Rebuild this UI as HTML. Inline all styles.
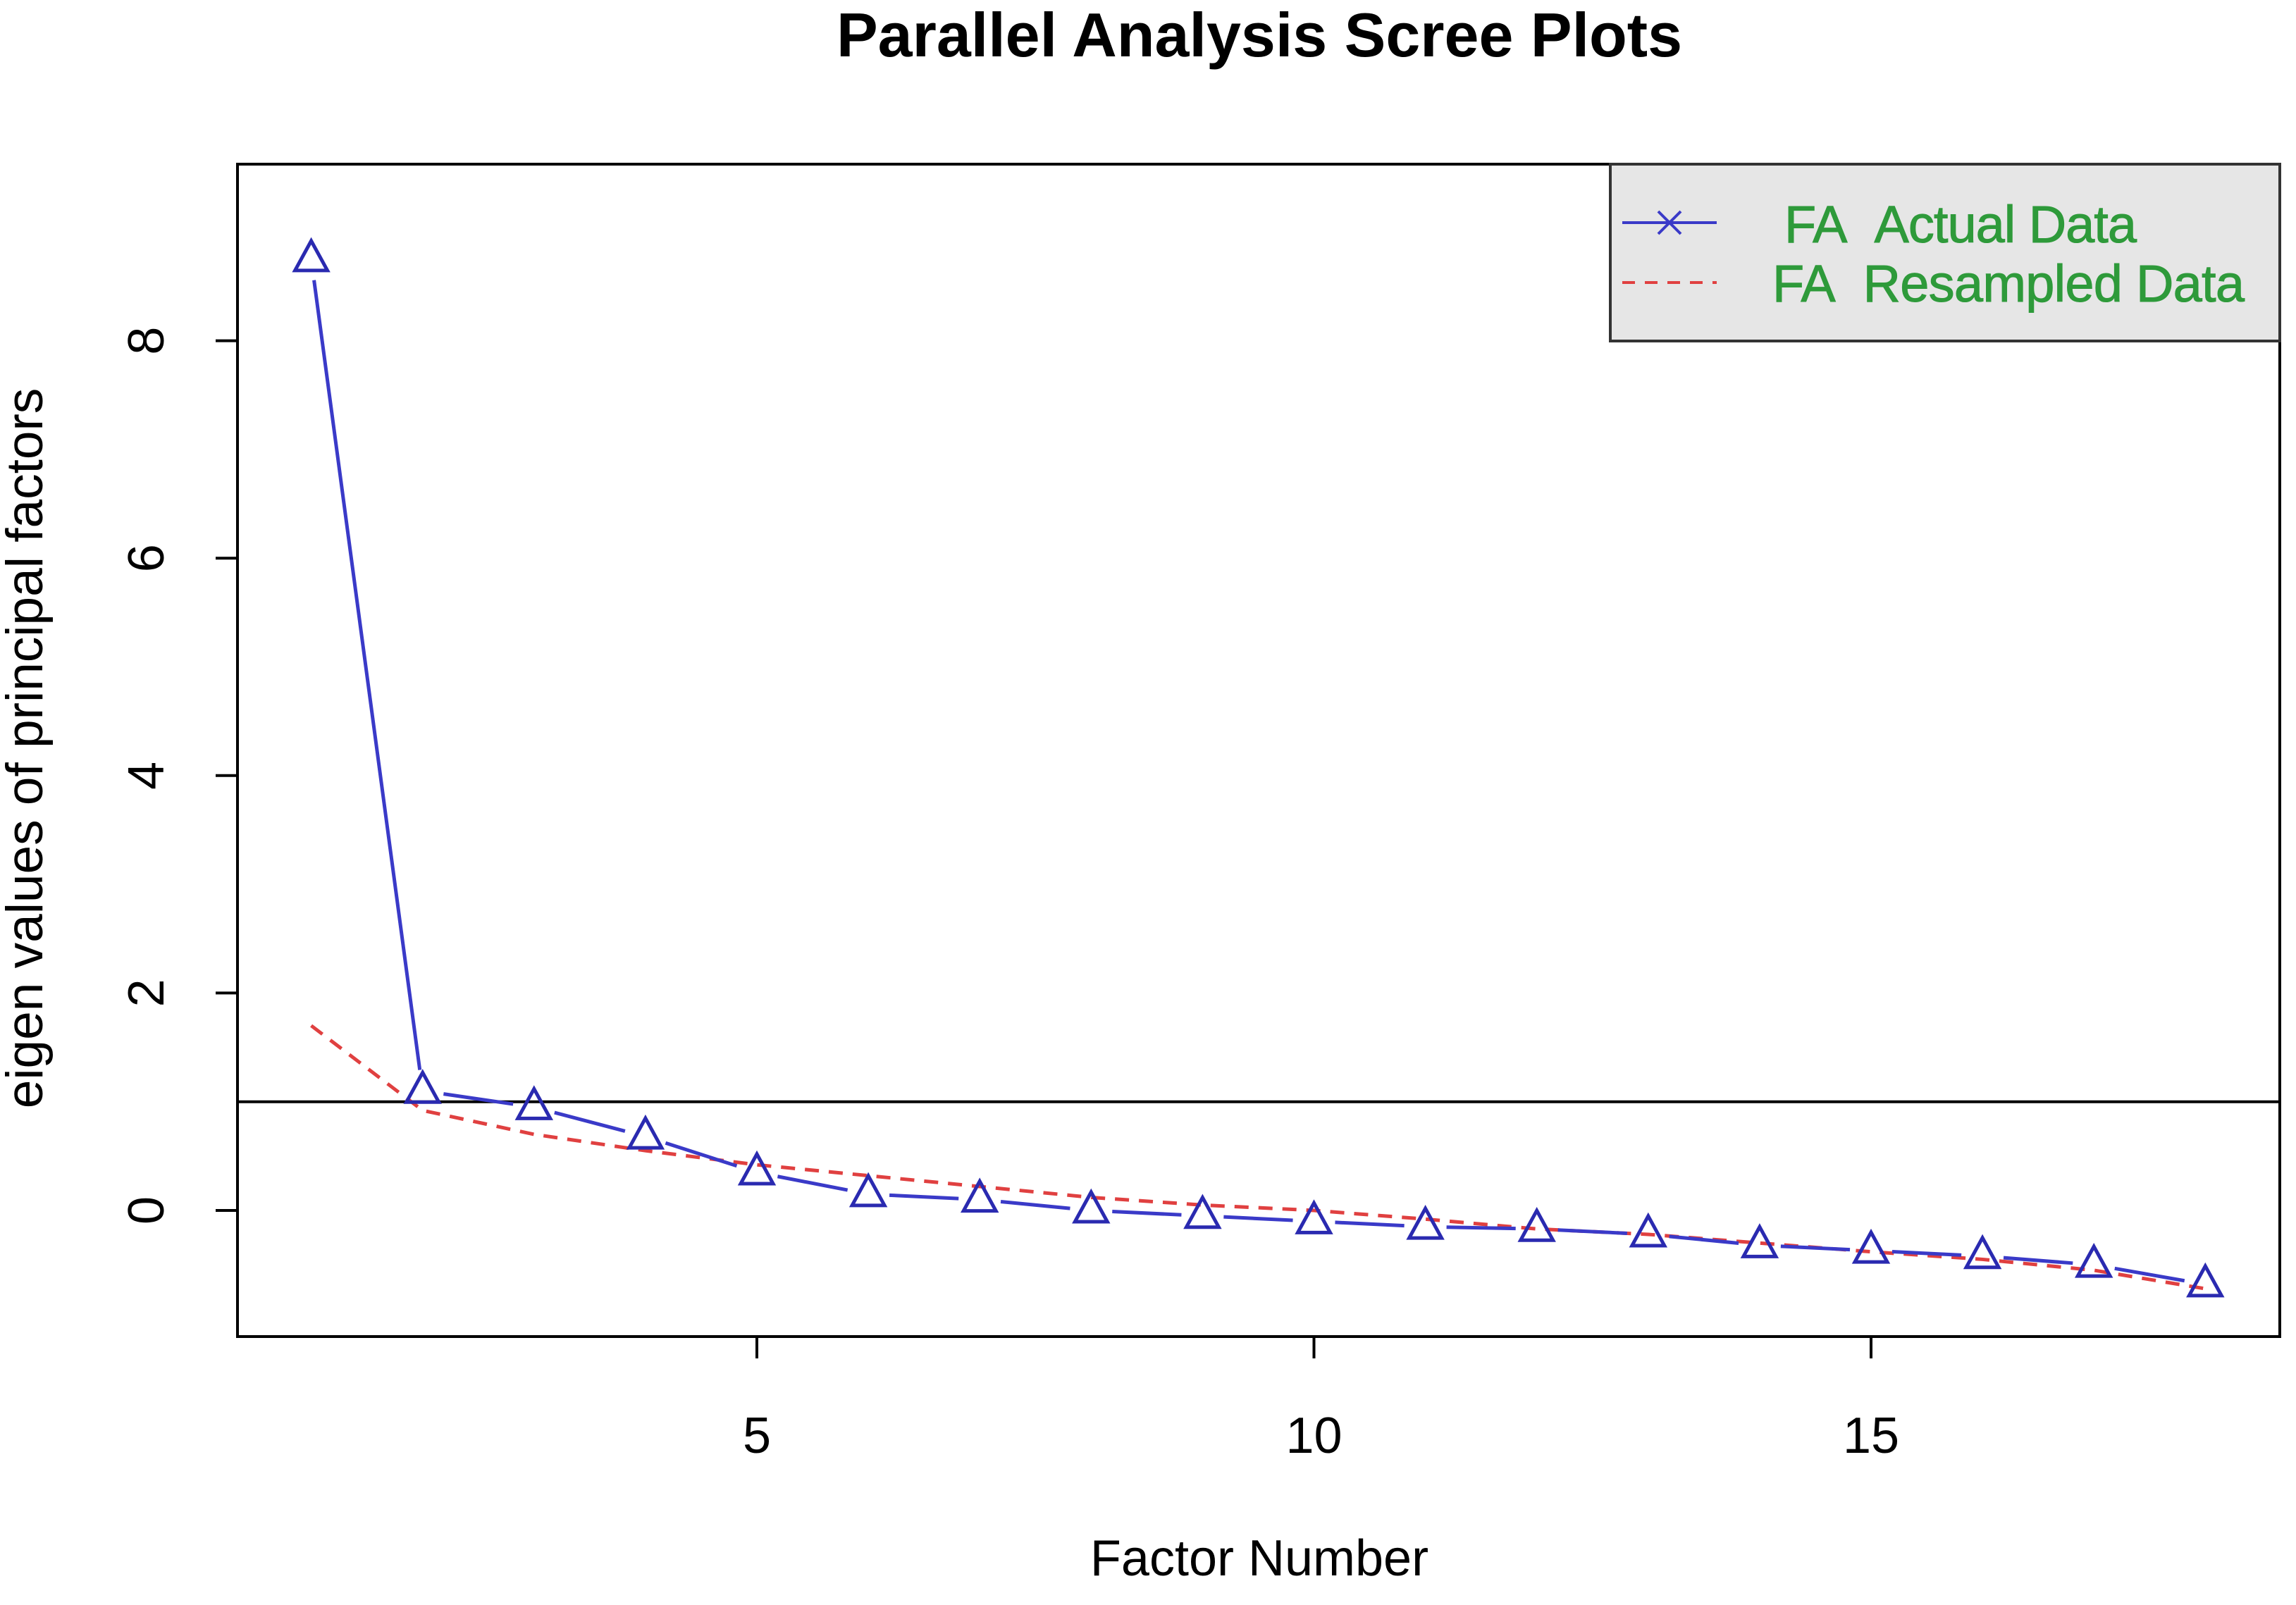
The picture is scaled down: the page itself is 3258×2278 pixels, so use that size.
<!DOCTYPE html>
<html><head><meta charset="utf-8"><style>html,body{margin:0;padding:0;background:#fff}svg{display:block}</style></head>
<body>
<svg id="chart" width="3258" height="2278" viewBox="0 0 3258 2278" xmlns="http://www.w3.org/2000/svg" font-family="Liberation Sans, Arial, sans-serif">
<rect width="3258" height="2278" fill="#fff"/>
<text x="1787" y="80" font-size="88" font-weight="bold" text-anchor="middle">Parallel Analysis Scree Plots</text>
<g id="marks"></g>
<rect x="337" y="233" width="2898" height="1664" fill="none" stroke="#000" stroke-width="4"/>
<g>
<rect x="2285" y="233" width="950" height="251" fill="#e6e6e6" stroke="#333" stroke-width="4"/>
<g>
<line x1="2302" y1="316" x2="2436" y2="316" stroke="#3a3ac8" stroke-width="4"/>
<path d="M2353 300 L2385 332 M2353 332 L2385 300" stroke="#3a3ac8" stroke-width="4"/>
<text x="2532" y="344" font-size="74" fill="#2e9a3a" stroke="#2e9a3a" stroke-width="1" textLength="500">FA&#160;&#160;Actual Data</text>
</g>
<g>
<line x1="2302" y1="401" x2="2436" y2="401" stroke="#e04040" stroke-width="4" stroke-dasharray="18,14"/>
<text x="2515" y="428" font-size="74" fill="#2e9a3a" stroke="#2e9a3a" stroke-width="1" textLength="670">FA&#160;&#160;Resampled Data</text>
</g>
</g>
<text x="1787" y="2236" font-size="72" text-anchor="middle">Factor Number</text>
<text transform="translate(60,1062) rotate(-90)" font-size="73" text-anchor="middle">eigen values of principal factors</text>
<g id="axes"></g>
</svg>
<script>
const factors=[1,2,3,4,5,6,7,8,9,10,11,12,13,14,15,16,17,18];
const actualData=[8.75,1.1,0.95,0.68,0.35,0.15,0.1,0.0,-0.05,-0.1,-0.15,-0.17,-0.22,-0.32,-0.37,-0.42,-0.5,-0.68];
const resampledData=[1.7,0.92,0.7,0.55,0.42,0.32,0.22,0.12,0.05,0.0,-0.08,-0.17,-0.22,-0.3,-0.38,-0.45,-0.55,-0.72];
const xTicks=[5,10,15];
const yTicks=[0,2,4,6,8];
const refLine=1;
const NS="http://www.w3.org/2000/svg";
function xs(v){return 1074+(v-5)*158.1;}
function ys(v){return 1718-v*154.3;}
const marks=document.getElementById('marks'),axes=document.getElementById('axes');
function mk(tag,attrs,parent){const e=document.createElementNS(NS,tag);for(const k in attrs)e.setAttribute(k,attrs[k]);parent.appendChild(e);return e;}
let rl=mk('line',{x1:337,x2:3235,y1:ys(refLine),y2:ys(refLine),stroke:'#000','stroke-width':4},marks);


let rp=mk('polyline',{points:factors.map((f,i)=>xs(f)+','+ys(resampledData[i])).join(' '),fill:'none',stroke:'#e04040','stroke-width':5,'stroke-dasharray':'20,14'},marks);


for(let i=0;i<factors.length-1;i++){
 const x1=xs(factors[i]),y1=ys(actualData[i]),x2=xs(factors[i+1]),y2=ys(actualData[i+1]);
 const d=Math.hypot(x2-x1,y2-y1),g=30;
 if(d<2*g)continue;
 const ux=(x2-x1)/d,uy=(y2-y1)/d;
 const s=mk('line',{x1:x1+ux*g,y1:y1+uy*g,x2:x2-ux*g,y2:y2-uy*g,stroke:'#3a3ac8','stroke-width':5},marks);
 
 
}
factors.forEach((f,i)=>{
 const x=xs(f),y=ys(actualData[i]);
 const t=mk('polygon',{points:`${x},${y-26} ${x-23},${y+16} ${x+23},${y+16}`,fill:'none',stroke:'#2a2ab0','stroke-width':5},marks);
 
 
});
xTicks.forEach(v=>{
 const l=mk('line',{x1:xs(v),x2:xs(v),y1:1897,y2:1928,stroke:'#000','stroke-width':4},axes);
 
 
 const t=mk('text',{x:xs(v),y:2062,'font-size':72,'text-anchor':'middle'},axes);
 t.textContent=v;
 
 
});
yTicks.forEach(v=>{
 const l=mk('line',{x1:306,x2:337,y1:ys(v),y2:ys(v),stroke:'#000','stroke-width':4},axes);
 
 
 const t=mk('text',{transform:`translate(232,${ys(v)}) rotate(-90)`,'font-size':72,'text-anchor':'middle'},axes);
 t.textContent=v;
 
 
});
</script>
</body></html>
